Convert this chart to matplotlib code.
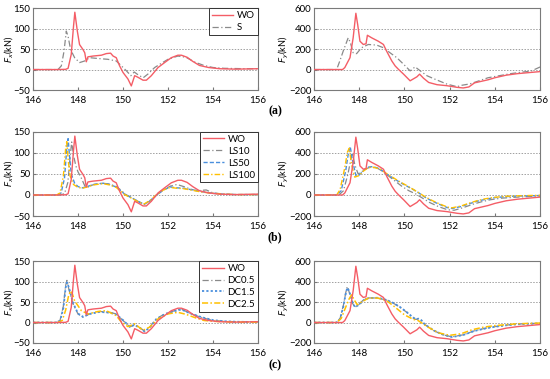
"""
Fx / Fy time histories, three comparison panels
"""
import matplotlib
matplotlib.use("Agg")
import matplotlib.pyplot as plt

# ---- data (time in s, force in kN) ----
WO_FX_T = [146, 147.0, 147.45, 147.56, 147.70, 147.80, 147.86, 147.97, 148.07, 148.22, 148.30,
           148.37, 148.44, 148.67, 149.04, 149.26, 149.45, 149.56, 149.70, 149.85, 150.0, 150.22,
           150.37, 150.52, 150.67, 150.89, 151.04, 151.26, 151.56, 151.85, 152.15, 152.44, 152.6,
           152.85, 153.1, 153.4, 153.8, 154.3, 155.0, 156.0]
WO_FX = [0, 0, 0.5, 3, 37, 105, 140, 94, 61, 49, 41, 19, 31, 33, 35, 39, 40, 33, 29, 9, -7, -23,
         -40, -15, -19, -26, -26, -15, 5, 17, 29, 35, 35, 30, 20, 10, 5, 2, 1, 2]
WO_FY_T = [146, 147.0, 147.26, 147.36, 147.59, 147.73, 147.85, 147.93, 148.03, 148.18, 148.30,
           148.36, 148.55, 148.84, 149.07, 149.21, 149.44, 149.59, 149.73, 149.96, 150.25, 150.55,
           150.67, 150.84, 151.07, 151.44, 151.88, 152.33, 152.6, 152.85, 153.1, 153.4, 153.7,
           154.0, 154.5, 155.0, 155.5, 156.0]
WO_FY = [0, 0, 0, 19, 116, 310, 550, 440, 277, 245, 252, 335, 310, 277, 245, 180, 84, 35, 3, -45,
         -110, -71, -45, -84, -126, -148, -158, -174, -180, -170, -130, -115, -100, -80, -55, -40,
         -30, -20]

S_FX_T = [146, 147.11, 147.26, 147.38, 147.48, 147.56, 147.67, 147.85, 148.07, 148.30, 148.52,
          148.89, 149.33, 149.70, 149.93, 150.15, 150.35, 150.5, 150.7, 150.9, 151.11, 151.41,
          151.70, 152.0, 152.44, 152.8, 153.2, 153.6, 154.0, 154.5, 155.5, 156]
S_FX = [0, 0, 9, 45, 94, 81, 49, 29, 17, 21, 29, 27, 25, 21, 9, -3, -15, -6, -14, -20, -11, 5, 15,
        25, 33, 30, 18, 10, 5, 3, 2, 2]
S_FY_T = [146, 147.0, 147.14, 147.29, 147.51, 147.61, 147.73, 147.88, 148.10, 148.40, 148.77,
          149.07, 149.36, 149.66, 149.96, 150.25, 150.47, 150.70, 151.0, 151.44, 151.88, 152.33,
          152.5, 152.9, 153.3, 153.7, 154.2, 154.7, 155.2, 155.6, 156.0]
S_FY = [0, 0, 84, 180, 310, 261, 164, 155, 213, 245, 239, 213, 164, 116, 52, -13, 26, -13, -61,
        -103, -142, -168, -155, -140, -110, -80, -60, -40, -25, -15, 25]

LS10_FX_T = [146, 147.2, 147.4, 147.55, 147.65, 147.72, 147.8, 147.9, 148.0, 148.15, 148.3, 148.4,
             148.7, 149.1, 149.4, 149.7, 149.9, 150.1, 150.4, 150.7, 150.95, 151.2, 151.5, 151.8,
             152.1, 152.4, 152.7, 153.0, 153.3, 153.7, 154.0, 154.5, 155.0, 156.0]
LS10_FX = [0, 0, 3, 30, 90, 126, 95, 70, 55, 40, 22, 18, 25, 28, 26, 20, 12, 2, -7, -16, -22, -14,
           0, 12, 21, 25, 20, 14, 10, 12, 5, 2, 1, 1]
LS50_FX_T = [146, 147.1, 147.25, 147.4, 147.5, 147.56, 147.62, 147.7, 147.85, 148.0, 148.2, 148.4,
             148.7, 149.1, 149.4, 149.7, 149.9, 150.1, 150.4, 150.7, 150.95, 151.2, 151.5, 151.8,
             152.1, 152.4, 152.7, 153.0, 153.5, 154.0, 154.5, 155.0, 156.0]
LS50_FX = [0, 0, 5, 40, 110, 134, 95, 50, 28, 20, 17, 20, 25, 28, 25, 19, 10, 1, -7, -16, -22, -14,
           0, 12, 19, 17, 16, 13, 8, 4, 2, 1, 1]
LS100_FX_T = [146, 147.05, 147.2, 147.35, 147.45, 147.5, 147.57, 147.65, 147.8, 148.0, 148.2,
              148.4, 148.7, 149.1, 149.4, 149.7, 149.9, 150.1, 150.4, 150.7, 150.95, 151.2, 151.5,
              151.8, 152.1, 152.4, 152.7, 153.0, 153.5, 154.0, 154.5, 155.0, 156.0]
LS100_FX = [0, 0, 5, 45, 110, 127, 80, 45, 25, 18, 16, 19, 24, 27, 24, 18, 9, 0, -8, -17, -21, -13,
            1, 12, 18, 16, 15, 12, 7, 4, 2, 1, 1]

LS10_FY_T = [146, 147.1, 147.3, 147.5, 147.62, 147.7, 147.8, 147.95, 148.1, 148.3, 148.5, 148.8,
             149.0, 149.3, 149.6, 149.9, 150.2, 150.5, 150.8, 151.1, 151.5, 151.9, 152.2, 152.6,
             153.0, 153.4, 153.8, 154.3, 155.0, 155.5, 156.0]
LS10_FY = [0, 0, 40, 200, 330, 400, 290, 200, 220, 250, 265, 255, 230, 180, 130, 80, 40, 10, -30,
           -70, -110, -140, -145, -120, -90, -65, -45, -30, -20, -15, -10]
LS50_FY_T = [146, 147.0, 147.2, 147.4, 147.52, 147.6, 147.7, 147.85, 148.0, 148.2, 148.4, 148.6,
             148.9, 149.2, 149.5, 149.8, 150.1, 150.4, 150.6, 150.9, 151.2, 151.5, 151.9, 152.1,
             152.5, 152.8, 153.2, 153.6, 154.0, 154.5, 155.0, 155.5, 156.0]
LS50_FY = [0, 0, 40, 230, 400, 460, 330, 185, 190, 235, 265, 270, 250, 200, 160, 120, 85, 50, 25,
           -20, -55, -85, -120, -128, -110, -88, -60, -40, -25, -15, -10, -8, -5]
LS100_FY_T = [146, 147.0, 147.15, 147.35, 147.48, 147.56, 147.65, 147.8, 148.0, 148.2, 148.4,
              148.6, 148.9, 149.2, 149.5, 149.8, 150.1, 150.4, 150.6, 150.9, 151.2, 151.5, 151.9,
              152.1, 152.5, 152.8, 153.2, 153.6, 154.0, 154.5, 155.0, 155.5, 156.0]
LS100_FY = [0, 0, 50, 250, 410, 445, 300, 170, 185, 230, 260, 265, 248, 205, 165, 125, 90, 52, 25,
            -15, -50, -80, -115, -122, -105, -82, -55, -35, -22, -12, -8, -5, -3]

DC_FX_T = [146, 147.0, 147.2, 147.35, 147.45, 147.51, 147.6, 147.78, 148.0, 148.22, 148.52, 148.96,
           149.41, 149.70, 150.0, 150.30, 150.52, 150.81, 150.96, 151.19, 151.48, 151.85, 152.30,
           152.59, 153.0, 153.5, 154.0, 154.5, 155.0, 156.0]
DC05_FX = [0, 0, 5, 40, 90, 103, 80, 45, 21, 13, 21, 27, 25, 21, 5, -11, -5, -15, -21, -11, 9, 21,
           29, 33, 22, 12, 5, 3, 2, 1]
DC15_FX = [0, 0, 4, 35, 85, 98, 85, 48, 22, 14, 21, 26, 24, 20, 6, -10, -6, -15, -22, -12, 8, 20,
           28, 32, 22, 13, 6, 3, 2, 1]
DC25_FX_T = [146, 147.1, 147.3, 147.45, 147.58, 147.67, 147.75, 147.85, 148.15, 148.44, 148.89,
             149.26, 149.70, 149.93, 150.22, 150.52, 150.89, 151.19, 151.56, 152.0, 152.44, 152.8,
             153.2, 153.6, 154.0, 154.5, 155.0, 156.0]
DC25_FX = [0, 0, 5, 30, 65, 77, 70, 53, 29, 21, 27, 29, 17, 1, -10, -3, -19, -11, 9, 21, 25, 20, 12,
           5, 3, 2, 1, 1]

DC_FY_T = [146, 147.0, 147.15, 147.3, 147.4, 147.47, 147.55, 147.7, 147.81, 148.0, 148.2, 148.4,
           148.8, 149.2, 149.5, 149.8, 150.1, 150.35, 150.5, 150.62, 150.75, 150.9, 151.3, 151.7,
           152.1, 152.6, 153.1, 153.6, 154.0, 154.5, 155.0, 155.5, 156.0]
DC05_FY = [0, 0, 40, 170, 290, 352, 300, 190, 148, 180, 225, 240, 240, 220, 190, 150, 100, 50, 30,
           35, 20, -20, -80, -120, -140, -120, -80, -55, -40, -25, -15, -10, -8]
DC15_FY = [0, 0, 35, 160, 280, 340, 310, 200, 150, 175, 220, 238, 242, 222, 192, 152, 102, 55, 32,
           38, 22, -18, -78, -118, -142, -122, -82, -57, -42, -27, -17, -12, -9]
DC25_FY_T = [146, 147.0, 147.2, 147.4, 147.55, 147.66, 147.78, 147.91, 148.1, 148.4, 148.8, 149.2,
             149.5, 150.0, 150.4, 150.6, 151.0, 151.5, 152.0, 152.5, 153.0, 153.5, 154.0, 155.0,
             156.0]
DC25_FY = [0, 0, 40, 150, 230, 271, 220, 174, 200, 238, 240, 215, 165, 75, 30, 20, -40, -100, -125,
           -110, -70, -45, -30, -12, -5]

X_TICKS = [146, 148, 150, 152, 154, 156]
FX_TICKS = [-50, 0, 50, 100, 150]
FY_TICKS = [-200, 0, 200, 400, 600]
PANEL_TAGS = ["(a)", "(b)", "(c)"]

RED = "#f45d66"
GRAY = "#8a8a8a"
BLUE = "#4a8fdd"
YELLOW = "#ffc000"
DASHDOT = (0, (5, 2, 1, 2))
DASHED = (0, (3, 1.5))
DOTTED = (0, (1.2, 1.2))
YDASHDOT = (0, (4, 1.5, 1, 1.5))

plt.rcParams["font.family"] = ["Lato", "DejaVu Sans"]


def style_axes(axe, ticks, label, label_x):
    axe.set_xlim(146, 156)
    axe.set_xticks(X_TICKS)
    axe.set_ylim(ticks[0], ticks[-1])
    axe.set_yticks(ticks)
    for tick in ticks[1:-1]:
        axe.axhline(tick, color="#a0a0a0", lw=0.7, ls=(0, (1.5, 1.5)), zorder=0)
    axe.tick_params(direction="in", length=2.5, labelsize=7, pad=2, color="#777777")
    axe.tick_params(axis="x", pad=4.5)
    for spine in axe.spines.values():
        spine.set_color("#7a7a7a")
        spine.set_linewidth(0.8)
    axe.set_ylabel(label, fontsize=6.5)
    axe.yaxis.set_label_coords(label_x, 0.5)


def main():
    fig = plt.figure(figsize=(5.5, 3.79), dpi=100)
    bottoms = [0.7625, 0.430, 0.095]
    heights = [0.216, 0.222, 0.216]
    tag_y = [0.707, 0.375, 0.037]
    panels = [
        [(S_FX_T, S_FX, S_FY_T, S_FY, "S", GRAY, DASHDOT, 0.9)],
        [(LS10_FX_T, LS10_FX, LS10_FY_T, LS10_FY, "LS10", GRAY, DASHDOT, 0.9),
         (LS50_FX_T, LS50_FX, LS50_FY_T, LS50_FY, "LS50", BLUE, DASHED, 1.0),
         (LS100_FX_T, LS100_FX, LS100_FY_T, LS100_FY, "LS100", YELLOW, YDASHDOT, 1.0)],
        [(DC_FX_T, DC05_FX, DC_FY_T, DC05_FY, "DC0.5", GRAY, DASHDOT, 0.9),
         (DC_FX_T, DC15_FX, DC_FY_T, DC15_FY, "DC1.5", BLUE, DOTTED, 1.3),
         (DC25_FX_T, DC25_FX, DC25_FY_T, DC25_FY, "DC2.5", YELLOW, YDASHDOT, 1.1)],
    ]
    for row, series in enumerate(panels):
        ax_l = fig.add_axes([0.060, bottoms[row], 0.409, heights[row]])
        ax_r = fig.add_axes([0.571, bottoms[row], 0.411, heights[row]])
        ax_l.plot(WO_FX_T, WO_FX, color=RED, lw=1.0, label="WO", zorder=3)
        ax_r.plot(WO_FY_T, WO_FY, color=RED, lw=1.0, zorder=3)
        for t_x, f_x, t_y, f_y, name, color, dash, width in series:
            ax_l.plot(t_x, f_x, color=color, ls=dash, lw=width, label=name)
            ax_r.plot(t_y, f_y, color=color, ls=dash, lw=width)
        style_axes(ax_l, FX_TICKS, r"$F_x$(kN)", -0.08)
        style_axes(ax_r, FY_TICKS, r"$F_y$(kN)", -0.1)
        leg = ax_l.legend(loc="upper right", borderaxespad=0, fancybox=False, fontsize=7,
                          handlelength=2.2, handletextpad=0.4, borderpad=0.3,
                          labelspacing=0.3, framealpha=1)
        leg.get_frame().set_edgecolor("#333333")
        leg.get_frame().set_linewidth(0.7)
        fig.text(0.5, tag_y[row], PANEL_TAGS[row], ha="center", va="center", fontsize=8.5,
                 family="Liberation Serif", fontweight="bold")

    fig.savefig("out.png", dpi=100)


if __name__ == "__main__":
    main()
